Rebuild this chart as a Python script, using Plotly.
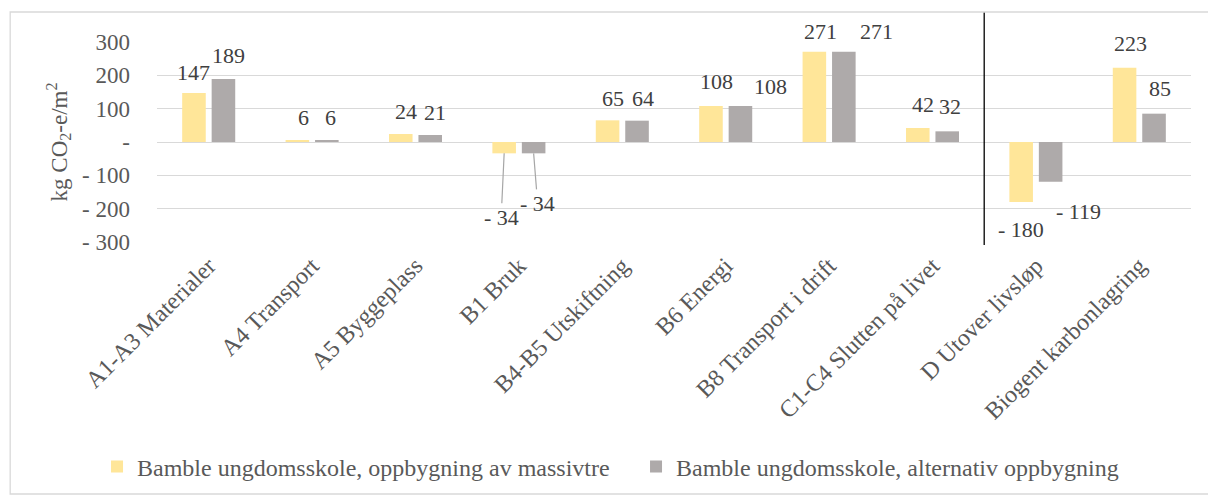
import plotly.graph_objects as go

categories = ["A1-A3 Materialer", "A4 Transport", "A5 Byggeplass", "B1 Bruk",
              "B4-B5 Utskiftning", "B6 Energi", "B8 Transport i drift",
              "C1-C4 Slutten på livet", "D Utover livsløp", "Biogent karbonlagring"]
massivtre = [147, 6, 24, -34, 65, 108, 271, 42, -180, 223]
alternativ = [189, 6, 21, -34, 64, 108, 271, 32, -119, 85]
series_names = ["Bamble ungdomsskole, oppbygning av massivtre",
                "Bamble ungdomsskole, alternativ oppbygning"]
tick_vals = [300, 200, 100, 0, -100, -200, -300]
tick_text = ["300", "200", "100", "-", "- 100", "- 200", "- 300"]

# label placement offsets (px) relative to bar end: (xshift, yshift)
lab_off_m = [(0, 21), (6, 23), (5, 23), (-3, 64), (5, 22), (6, 25), (6, 20), (5, 24), (0, -27), (6, 24)]
lab_off_a = [(5, 24), (4, 23), (5, 23), (4, 50), (6, 22), (30, 20), (33, 20), (3, 25), (28, -30), (6, 25)]
leader_idx = [3]  # labels drawn with leader lines

colors = ["#FFE699", "#AEAAAA"]
FONT = "Liberation Serif"

fig = go.Figure()
for name, vals, col in zip(series_names, [massivtre, alternativ], colors):
    fig.add_trace(go.Bar(x=categories, y=vals, name=name, marker_color=col,
                         marker_line_width=0))

slot = 103.4 * (1 - 0.43) / 2
for sidx, (vals, offs) in enumerate([(massivtre, lab_off_m), (alternativ, lab_off_a)]):
    base = -slot / 2 if sidx == 0 else slot / 2
    for i, (c, v) in enumerate(zip(categories, vals)):
        dx, dy = offs[i]
        txt = f"- {abs(v)}" if v < 0 else f"{v}"
        if i in leader_idx:
            fig.add_annotation(x=c, y=v, xref="x", yref="y", text=txt,
                               showarrow=True, arrowhead=0, arrowwidth=1.2,
                               arrowcolor="#A6A6A6", ax=dx, ay=dy,
                               xshift=base, font=dict(family=FONT, size=22, color="#404040"))
        else:
            fig.add_annotation(x=c, y=v, xref="x", yref="y", text=txt,
                               showarrow=False, xshift=base + dx, yshift=dy,
                               yanchor="middle", xanchor="center",
                               font=dict(family=FONT, size=22, color="#404040"))

# vertical separator between C1-C4 and D
fig.add_shape(type="line", xref="x", yref="paper", x0=7.5, x1=7.5, y0=-0.015, y1=1.15,
              line=dict(color="black", width=1.3))
# chart frame
fig.add_shape(type="rect", xref="paper", yref="paper", x0=-0.142, x1=1.05, y0=-1.26, y1=1.15,
              line=dict(color="#D9D9D9", width=1.3))

fig.update_layout(
    width=1208, height=491,
    margin=dict(l=149, r=25, t=34, b=257, autoexpand=False),
    paper_bgcolor="white", plot_bgcolor="white",
    barmode="group", bargap=0.43, bargroupgap=0.2,
    font=dict(family=FONT, size=22, color="#595959"),
    showlegend=True,
    legend=dict(orientation="h", x=-0.058, xanchor="left", y=-1.125, yanchor="middle",
                font=dict(family=FONT, size=24, color="#595959"), bgcolor="rgba(0,0,0,0)",
                itemwidth=30, entrywidth=494),
    xaxis=dict(tickangle=-45, showgrid=False, showline=False, ticks="", automargin=False,
               ticklabelstandoff=4,
               tickfont=dict(family=FONT, size=24, color="#595959")),
    yaxis=dict(range=[-300, 300], tickvals=tick_vals, ticktext=tick_text, automargin=False,
               showgrid=True, gridcolor="#D9D9D9", gridwidth=1.3, zeroline=True,
               zerolinecolor="#D9D9D9", zerolinewidth=1.3, showline=False, ticks="",
               ticklabelstandoff=26,
               tickfont=dict(family=FONT, size=23, color="#595959"),
               title=dict(text="kg CO<sub>2</sub>-e/m<sup>2</sup>", standoff=8,
                          font=dict(family=FONT, size=23, color="#595959"))),
)

fig.write_html("out.html")
